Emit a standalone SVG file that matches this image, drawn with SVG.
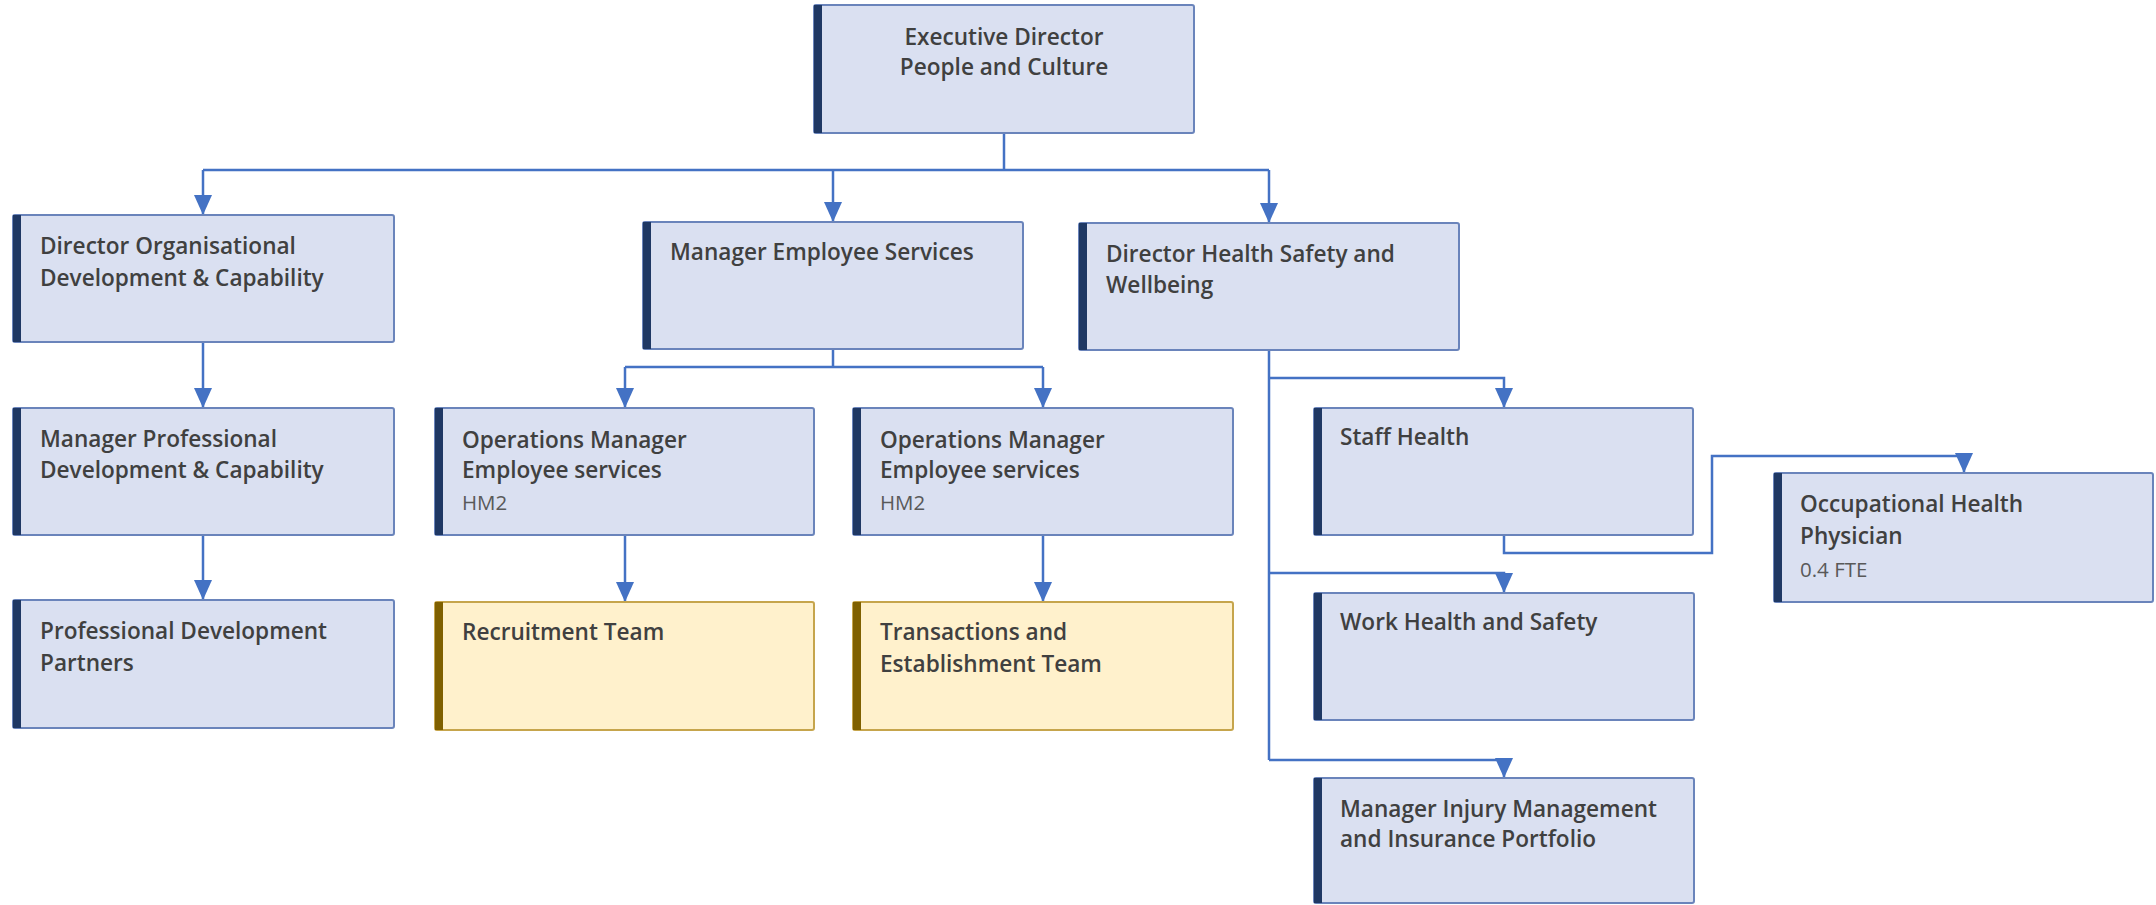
<svg xmlns="http://www.w3.org/2000/svg" width="2156" height="905" viewBox="0 0 2156 905">
  <style>
    .box { fill: #dae0f1; stroke: #6a84bb; stroke-width: 2; }
    .bar { fill: #1f3864; }
    .team { fill: #fff1cc; stroke: #c6a54c; stroke-width: 2; }
    .tbar { fill: #7f6000; }
    .t { font-family: "Open Sans", "Liberation Sans", sans-serif; font-weight: 600; font-size: 22.6px; fill: #404040; }
    .s { font-family: "Open Sans", "Liberation Sans", sans-serif; font-weight: 400; font-size: 20.5px; fill: #595959; }
    .c { text-anchor: middle; }
    .link { fill: none; stroke: #4472c4; stroke-width: 2.5; }
  </style>
  <defs>
    <marker id="arrow" viewBox="0 0 20 18" refX="20" refY="9" markerWidth="20" markerHeight="18" markerUnits="userSpaceOnUse" orient="auto">
      <path d="M0,0 L20,9 L0,18 z" fill="#4472c4"/>
    </marker>
  </defs>
  <rect width="2156" height="905" fill="#ffffff"/>

  <g id="connectors">
    <path class="link" d="M1004,133 V170"/>
    <path class="link" d="M203,170 H1269"/>
    <path class="link" d="M203,170 V215" marker-end="url(#arrow)"/>
    <path class="link" d="M833,170 V222" marker-end="url(#arrow)"/>
    <path class="link" d="M1269,170 V223" marker-end="url(#arrow)"/>
    <path class="link" d="M203,342 V408" marker-end="url(#arrow)"/>
    <path class="link" d="M203,535 V600" marker-end="url(#arrow)"/>
    <path class="link" d="M833,349 V367"/>
    <path class="link" d="M625,367 H1043"/>
    <path class="link" d="M625,367 V408" marker-end="url(#arrow)"/>
    <path class="link" d="M1043,367 V408" marker-end="url(#arrow)"/>
    <path class="link" d="M625,535 V602" marker-end="url(#arrow)"/>
    <path class="link" d="M1043,535 V602" marker-end="url(#arrow)"/>
    <path class="link" d="M1269,350 V760"/>
    <path class="link" d="M1269,378 H1504 V408" marker-end="url(#arrow)"/>
    <path class="link" d="M1269,573 H1504 V593" marker-end="url(#arrow)"/>
    <path class="link" d="M1269,760 H1504 V778" marker-end="url(#arrow)"/>
    <path class="link" d="M1504,535 V553 H1712 V456 H1964 V473" marker-end="url(#arrow)"/>
  </g>

  <g id="exec-director">
    <rect class="box" x="814" y="5" width="380" height="128" rx="2"/>
    <rect class="bar" x="814" y="5" width="8" height="128"/>
    <text class="t c" x="1004" y="45">Executive Director</text>
    <text class="t c" x="1004" y="75">People and Culture</text>
  </g>

  <g id="director-od">
    <rect class="box" x="13" y="215" width="381" height="127" rx="2"/>
    <rect class="bar" x="13" y="215" width="8" height="127"/>
    <text class="t" x="40" y="254">Director Organisational</text>
    <text class="t" x="40" y="286">Development &amp; Capability</text>
  </g>

  <g id="manager-employee-services">
    <rect class="box" x="643" y="222" width="380" height="127" rx="2"/>
    <rect class="bar" x="643" y="222" width="8" height="127"/>
    <text class="t" x="670" y="260">Manager Employee Services</text>
  </g>

  <g id="director-hsw">
    <rect class="box" x="1079" y="223" width="380" height="127" rx="2"/>
    <rect class="bar" x="1079" y="223" width="8" height="127"/>
    <text class="t" x="1106" y="262">Director Health Safety and</text>
    <text class="t" x="1106" y="293">Wellbeing</text>
  </g>

  <g id="manager-pd">
    <rect class="box" x="13" y="408" width="381" height="127" rx="2"/>
    <rect class="bar" x="13" y="408" width="8" height="127"/>
    <text class="t" x="40" y="447">Manager Professional</text>
    <text class="t" x="40" y="478">Development &amp; Capability</text>
  </g>

  <g id="pd-partners">
    <rect class="box" x="13" y="600" width="381" height="128" rx="2"/>
    <rect class="bar" x="13" y="600" width="8" height="128"/>
    <text class="t" x="40" y="639">Professional Development</text>
    <text class="t" x="40" y="671">Partners</text>
  </g>

  <g id="ops-manager-1">
    <rect class="box" x="435" y="408" width="379" height="127" rx="2"/>
    <rect class="bar" x="435" y="408" width="8" height="127"/>
    <text class="t" x="462" y="448">Operations Manager</text>
    <text class="t" x="462" y="478">Employee services</text>
    <text class="s" x="462" y="510">HM2</text>
  </g>

  <g id="ops-manager-2">
    <rect class="box" x="853" y="408" width="380" height="127" rx="2"/>
    <rect class="bar" x="853" y="408" width="8" height="127"/>
    <text class="t" x="880" y="448">Operations Manager</text>
    <text class="t" x="880" y="478">Employee services</text>
    <text class="s" x="880" y="510">HM2</text>
  </g>

  <g id="recruitment-team">
    <rect class="team" x="435" y="602" width="379" height="128" rx="2"/>
    <rect class="tbar" x="435" y="602" width="8" height="128"/>
    <text class="t" x="462" y="640">Recruitment Team</text>
  </g>

  <g id="transactions-team">
    <rect class="team" x="853" y="602" width="380" height="128" rx="2"/>
    <rect class="tbar" x="853" y="602" width="8" height="128"/>
    <text class="t" x="880" y="640">Transactions and</text>
    <text class="t" x="880" y="672">Establishment Team</text>
  </g>

  <g id="staff-health">
    <rect class="box" x="1314" y="408" width="379" height="127" rx="2"/>
    <rect class="bar" x="1314" y="408" width="8" height="127"/>
    <text class="t" x="1340" y="445">Staff Health</text>
  </g>

  <g id="work-health-safety">
    <rect class="box" x="1314" y="593" width="380" height="127" rx="2"/>
    <rect class="bar" x="1314" y="593" width="8" height="127"/>
    <text class="t" x="1340" y="630">Work Health and Safety</text>
  </g>

  <g id="injury-management">
    <rect class="box" x="1314" y="778" width="380" height="125" rx="2"/>
    <rect class="bar" x="1314" y="778" width="8" height="125"/>
    <text class="t" x="1340" y="817">Manager Injury Management</text>
    <text class="t" x="1340" y="847">and Insurance Portfolio</text>
  </g>

  <g id="occupational-health-physician">
    <rect class="box" x="1774" y="473" width="379" height="129" rx="2"/>
    <rect class="bar" x="1774" y="473" width="8" height="129"/>
    <text class="t" x="1800" y="512">Occupational Health</text>
    <text class="t" x="1800" y="544">Physician</text>
    <text class="s" x="1800" y="577">0.4 FTE</text>
  </g>
</svg>
